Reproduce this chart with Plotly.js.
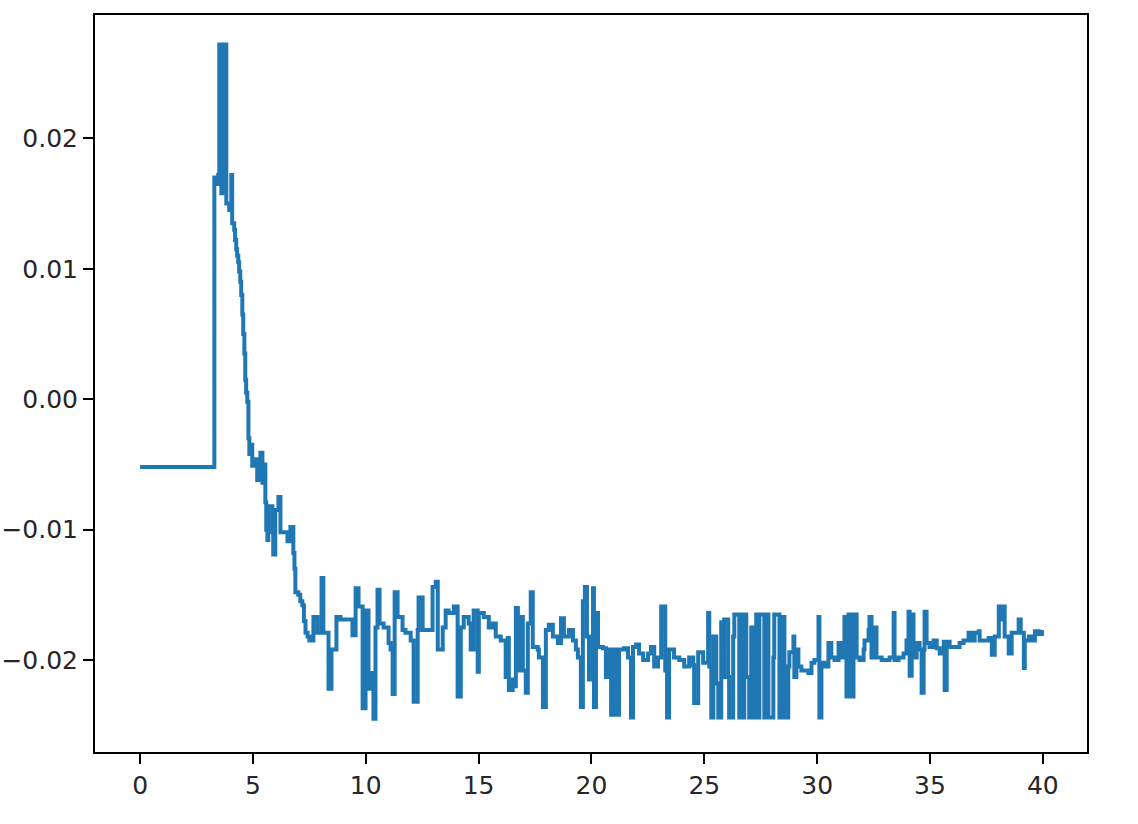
<!DOCTYPE html>
<html>
<head>
<meta charset="utf-8">
<script src="https://cdn.plot.ly/plotly-3.0.1.min.js"></script>
<style>
html, body { margin: 0; padding: 0; background: #ffffff; }
#chart { width: 1138px; height: 824px; }
</style>
</head>
<body>
<div id="chart"></div>
<script>
// Time axis values
const timeValues = [
  0, 3.25, 3.29, 3.37, 3.46, 3.51, 3.60, 3.64, 3.73, 3.77, 3.82, 3.95, 4.04, 4.08, 4.17, 4.21, 4.26, 4.30, 4.35, 4.39, 4.44, 4.48, 4.53, 4.57, 4.62, 4.66, 4.70, 4.75,
  4.80, 4.84, 4.93, 4.97, 5.11, 5.19, 5.33, 5.42, 5.46, 5.55, 5.59, 5.64, 5.68, 5.86, 5.90, 5.99, 6.13, 6.22,
  6.44, 6.53, 6.66, 6.79, 6.84, 6.88, 7.01, 7.10, 7.19, 7.26, 7.33, 7.42, 7.50, 7.68, 7.86, 8.04, 8.12, 8.35, 8.48, 8.70, 8.88, 9.01, 9.23, 9.41,
  9.55, 9.68, 9.86, 9.99, 10.12, 10.21, 10.34, 10.43, 10.52, 10.61, 10.79, 11.01, 11.10, 11.19, 11.28, 11.41, 11.63, 11.76, 11.99, 12.12,
  12.30, 12.34, 12.52, 12.87, 12.96, 13.10, 13.19, 13.41, 13.54, 13.67, 13.90, 14.07, 14.21, 14.34, 14.56, 14.65, 14.78, 14.96, 15.01, 15.23,
  15.45, 15.63, 15.76, 15.98, 16.20, 16.29, 16.34, 16.51, 16.56, 16.65, 16.74, 16.87, 16.96, 17.09, 17.18, 17.31, 17.40, 17.62, 17.67, 17.85,
  17.98, 18.11, 18.29, 18.51, 18.65, 18.78, 19.00, 19.18, 19.31, 19.40, 19.53, 19.62, 19.71, 19.80, 19.89, 20.07, 20.11, 20.20, 20.29, 20.51,
  20.64, 20.78, 20.87, 21.00, 21.09, 21.22, 21.44, 21.62, 21.75, 21.84, 21.98, 22.11, 22.29, 22.51, 22.64, 22.78, 22.95, 23.09, 23.22, 23.27,
  23.35, 23.44, 23.66, 23.89, 24.11, 24.33, 24.51, 24.55, 24.73, 24.95, 25.17, 25.22, 25.31, 25.40, 25.53, 25.62, 25.75, 25.84, 25.88, 25.97,
  26.06, 26.10, 26.19, 26.28, 26.33, 26.50, 26.55, 26.64, 26.73, 26.77, 26.86, 26.99, 27.08, 27.17, 27.22, 27.30, 27.39, 27.44, 27.62, 27.66,
  27.75, 27.84, 27.97, 28.06, 28.10, 28.28, 28.33, 28.41, 28.55, 28.64, 28.72, 28.77, 28.95, 28.99, 29.08, 29.17, 29.30, 29.43, 29.61, 29.75,
  29.88, 30.06, 30.10, 30.19, 30.32, 30.50, 30.63, 30.77, 30.95, 31.08, 31.21, 31.30, 31.39, 31.52, 31.61, 31.75, 31.88, 32.06, 32.10, 32.28,
  32.32, 32.41, 32.50, 32.55, 32.63, 32.86, 33.08, 33.21, 33.39, 33.43, 33.61, 33.83, 33.96, 34.05, 34.10, 34.19, 34.27, 34.41, 34.54, 34.63,
  34.72, 34.76, 34.85, 34.98, 35.16, 35.30, 35.43, 35.61, 35.65, 35.74, 35.87, 36.09, 36.31, 36.49, 36.71, 36.85, 36.98, 37.16, 37.20, 37.38,
  37.60, 37.74, 37.87, 38.05, 38.13, 38.27, 38.31, 38.49, 38.62, 38.76, 38.93, 39.02, 39.16, 39.20, 39.38, 39.51, 39.65, 39.82, 39.96
];

// Signal values
const signalValues = [
  -0.0052, -0.0052, 0.0170, 0.0165, 0.0172, 0.0272, 0.0158, 0.0272, 0.0162, 0.0272, 0.0150, 0.0145, 0.0172, 0.0135, 0.0130, 0.0122, 0.0115, 0.0110, 0.0105, 0.0098, 0.0090, 0.0080, 0.0065, 0.0050, 0.0035, 0.0015, 0.0005, -0.0002,
  -0.0030, -0.0042, -0.0035, -0.0051, -0.0046, -0.0062, -0.0041, -0.0064, -0.0050, -0.0079, -0.0100, -0.0108, -0.0082, -0.0102, -0.0119, -0.0085, -0.0075, -0.0102,
  -0.0102, -0.0109, -0.0098, -0.0118, -0.0130, -0.0148, -0.0150, -0.0155, -0.0158, -0.0170, -0.0179, -0.0182, -0.0185, -0.0167, -0.0179, -0.0137, -0.0179, -0.0222, -0.0192, -0.0167, -0.0169, -0.0169, -0.0169, -0.0181,
  -0.0145, -0.0159, -0.0237, -0.0162, -0.0222, -0.0210, -0.0245, -0.0175, -0.0146, -0.0172, -0.0175, -0.0187, -0.0192, -0.0226, -0.0148, -0.0167, -0.0177, -0.0179, -0.0185, -0.0232,
  -0.0177, -0.0152, -0.0177, -0.0177, -0.0144, -0.0140, -0.0192, -0.0175, -0.0162, -0.0164, -0.0159, -0.0228, -0.0175, -0.0167, -0.0172, -0.0192, -0.0162, -0.0209, -0.0164, -0.0167,
  -0.0175, -0.0172, -0.0182, -0.0185, -0.0213, -0.0183, -0.0223, -0.0215, -0.0220, -0.0160, -0.0208, -0.0167, -0.0208, -0.0225, -0.0172, -0.0148, -0.0190, -0.0192, -0.0198, -0.0236,
  -0.0177, -0.0173, -0.0182, -0.0187, -0.0168, -0.0182, -0.0177, -0.0185, -0.0192, -0.0198, -0.0236, -0.0155, -0.0144, -0.0182, -0.0215, -0.0145, -0.0236, -0.0164, -0.0190, -0.0191,
  -0.0213, -0.0192, -0.0242, -0.0192, -0.0242, -0.0192, -0.0191, -0.0198, -0.0244, -0.0190, -0.0188, -0.0195, -0.0200, -0.0195, -0.0190, -0.0205, -0.0198, -0.0159, -0.0159, -0.0208,
  -0.0244, -0.0192, -0.0198, -0.0200, -0.0205, -0.0198, -0.0204, -0.0233, -0.0194, -0.0202, -0.0164, -0.0205, -0.0244, -0.0182, -0.0218, -0.0244, -0.0171, -0.0213, -0.0169, -0.0169,
  -0.0213, -0.0244, -0.0244, -0.0182, -0.0165, -0.0165, -0.0244, -0.0165, -0.0244, -0.0165, -0.0213, -0.0244, -0.0175, -0.0244, -0.0175, -0.0165, -0.0244, -0.0165, -0.0165, -0.0244,
  -0.0165, -0.0244, -0.0244, -0.0198, -0.0165, -0.0165, -0.0244, -0.0167, -0.0244, -0.0244, -0.0205, -0.0194, -0.0182, -0.0213, -0.0192, -0.0205, -0.0208, -0.0208, -0.0210, -0.0202,
  -0.0200, -0.0167, -0.0244, -0.0202, -0.0205, -0.0187, -0.0198, -0.0200, -0.0187, -0.0198, -0.0167, -0.0228, -0.0165, -0.0228, -0.0165, -0.0198, -0.0200, -0.0192, -0.0185, -0.0177,
  -0.0167, -0.0198, -0.0179, -0.0175, -0.0198, -0.0200, -0.0200, -0.0198, -0.0164, -0.0200, -0.0198, -0.0195, -0.0185, -0.0163, -0.0212, -0.0165, -0.0198, -0.0187, -0.0192, -0.0225,
  -0.0192, -0.0163, -0.0187, -0.0190, -0.0185, -0.0191, -0.0195, -0.0186, -0.0223, -0.0186, -0.0190, -0.0190, -0.0187, -0.0185, -0.0179, -0.0185, -0.0179, -0.0178, -0.0185, -0.0185,
  -0.0183, -0.0196, -0.0182, -0.0159, -0.0169, -0.0159, -0.0182, -0.0195, -0.0179, -0.0179, -0.0169, -0.0179, -0.0206, -0.0185, -0.0182, -0.0185, -0.0178, -0.0180, -0.0177
];

const xTickValues = [0, 5, 10, 15, 20, 25, 30, 35, 40];
const yTickValues = [-0.02, -0.01, 0.00, 0.01, 0.02];

const trace = {
  x: timeValues,
  y: signalValues,
  type: 'scatter',
  mode: 'lines',
  line: { color: '#1f77b4', width: 4, shape: 'hv' },
  hoverinfo: 'skip'
};

const axisCommon = {
  showline: true,
  mirror: true,
  linecolor: '#000000',
  linewidth: 2,
  ticks: 'outside',
  ticklen: 10,
  tickwidth: 2,
  tickcolor: '#000000',
  showgrid: false,
  zeroline: false,
  tickfont: { family: 'DejaVu Sans, sans-serif', size: 25, color: '#262626' }
};

const layout = {
  width: 1138,
  height: 824,
  margin: { l: 95, r: 51, t: 15, b: 72, pad: 0 },
  paper_bgcolor: '#ffffff',
  plot_bgcolor: '#ffffff',
  showlegend: false,
  xaxis: Object.assign({}, axisCommon, {
    range: [-1.998, 41.958],
    tickvals: xTickValues,
    ticktext: xTickValues.map(String)
  }),
  yaxis: Object.assign({}, axisCommon, {
    range: [-0.02705, 0.02946],
    tickvals: yTickValues,
    tickformat: '.2f'
  })
};

Plotly.newPlot('chart', [trace], layout, { displayModeBar: false, staticPlot: true });
</script>
</body>
</html>
